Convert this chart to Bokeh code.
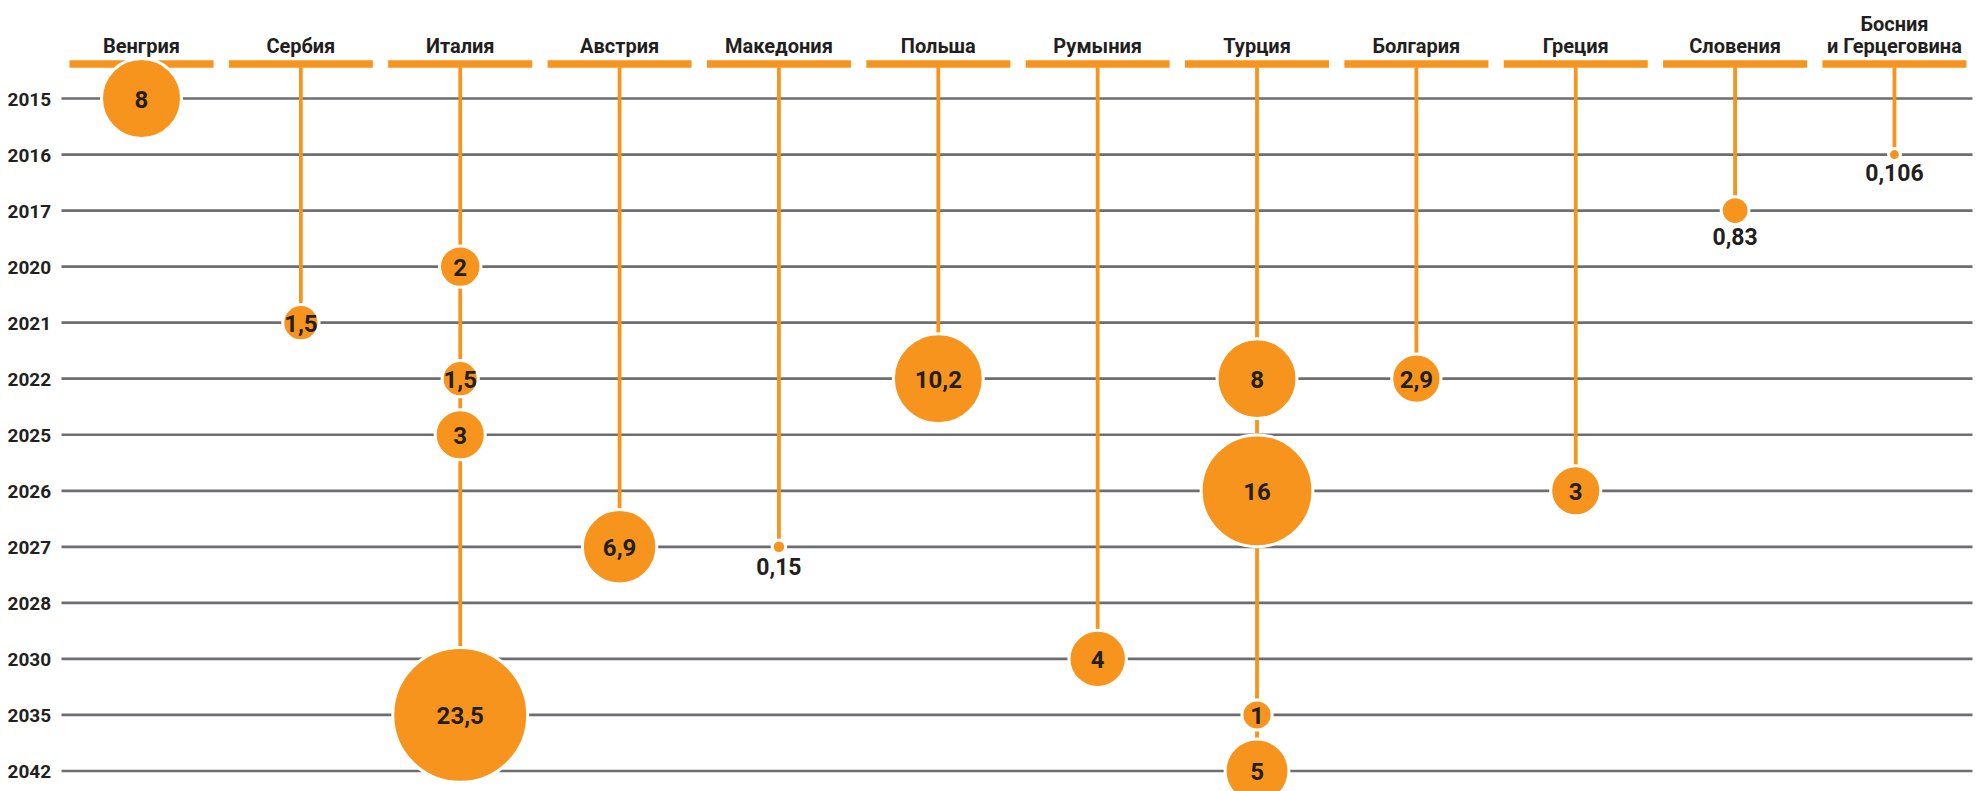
import math
from bokeh.plotting import figure
from bokeh.models import Range1d
from bokeh.core.properties import value
from bokeh.embed import file_html
from bokeh.resources import INLINE

# ---------------- data ----------------
countries = ["Венгрия", "Сербия", "Италия", "Австрия", "Македония", "Польша",
             "Румыния", "Турция", "Болгария", "Греция", "Словения",
             "Босния\nи Герцеговина"]
years = ["2015", "2016", "2017", "2020", "2021", "2022", "2025", "2026",
         "2027", "2028", "2030", "2035", "2042"]

pt_country = ["Венгрия", "Сербия", "Италия", "Италия", "Италия", "Италия",
              "Австрия", "Македония", "Польша", "Румыния",
              "Турция", "Турция", "Турция", "Турция",
              "Болгария", "Греция", "Словения", "Босния\nи Герцеговина"]
pt_year = ["2015", "2021", "2020", "2022", "2025", "2035",
           "2027", "2027", "2022", "2030",
           "2022", "2026", "2035", "2042",
           "2022", "2026", "2017", "2016"]
pt_value = [8, 1.5, 2, 1.5, 3, 23.5,
            6.9, 0.15, 10.2, 4,
            8, 16, 1, 5,
            2.9, 3, 0.83, 0.106]

# ---------------- style ----------------
ORANGE = "#F7941D"
GRAY = "#6D6E71"
INK = "#231F20"
FONT = value("Roboto")

W, H = 1987, 791
COL_PX = 159.36          # pixels per country column
ROW_PX = 56.04           # pixels per year row
X0 = -141 / COL_PX       # left edge of frame in column units
Y_TOP = -98 / ROW_PX     # top edge of frame in row units

p = figure(width=W, height=H,
           x_range=Range1d(X0, X0 + W / COL_PX),
           y_range=Range1d(Y_TOP + H / ROW_PX, Y_TOP),
           output_backend="svg", toolbar_location=None,
           x_axis_location=None, y_axis_location=None,
           min_border=0, outline_line_color=None,
           background_fill_color="white", border_fill_color="white")
p.grid.visible = False

col_idx = {c: i for i, c in enumerate(countries)}
row_idx = {y: i for i, y in enumerate(years)}
rows = list(range(len(years)))
cols = list(range(len(countries)))

# year grid lines
gx0 = X0 + 61 / COL_PX
gx1 = X0 + 1972 / COL_PX
p.segment(x0=[gx0] * len(rows), y0=rows, x1=[gx1] * len(rows), y1=rows,
          line_color=GRAY, line_width=2.7)

# year labels
p.text(x=[X0 + 7 / COL_PX] * len(rows), y=rows, text=years, text_align="left",
       text_baseline="middle", y_offset=1, text_font=FONT,
       text_font_style="bold", text_font_size="19px", text_color=INK)

# header bars
bar_y = Y_TOP + 63.5 / ROW_PX
p.rect(x=cols, y=[bar_y] * len(cols), width=144 / COL_PX, height=7.5,
       height_units="screen", fill_color=ORANGE, line_color=None)

# header labels
hx, hy, ht, hoff = [], [], [], []
head_mid = Y_TOP + 45.3 / ROW_PX
for i, c in enumerate(countries):
    lines = c.split("\n")
    for j, ln in enumerate(reversed(lines)):
        hx.append(i)
        hy.append(head_mid)
        ht.append(ln)
        hoff.append(-22 * j)
p.text(x=hx, y=hy, text=ht, y_offset=hoff, text_align="center",
       text_baseline="middle", text_font=FONT, text_font_style="bold",
       text_font_size="20px", text_color=INK)

# stems
stem_top = Y_TOP + 67 / ROW_PX
last_row = {}
for c, y in zip(pt_country, pt_year):
    last_row[c] = max(last_row.get(c, -1), row_idx[y])
sx = [col_idx[c] for c in last_row]
sy = [last_row[c] for c in last_row]
p.segment(x0=sx, y0=[stem_top] * len(sx), x1=sx, y1=sy,
          line_color=ORANGE, line_width=3.8)

# bubbles
px = [col_idx[c] for c in pt_country]
py = [row_idx[y] for y in pt_year]
diam = [27.2 * math.sqrt(v) for v in pt_value]
p.scatter(x=px, y=py, size=[d + 3 for d in diam], marker="circle",
          fill_color=ORANGE, line_color="white", line_width=3)

# value labels
def fmt(v):
    return f"{v:g}".replace(".", ",")

ix, iy, it = [], [], []
bx, by, bt, boff = [], [], [], []
for x, y, v, d in zip(px, py, pt_value, diam):
    if v >= 1:
        ix.append(x); iy.append(y); it.append(fmt(v))
    else:
        bx.append(x); by.append(y); bt.append(fmt(v)); boff.append(d / 2 + 14)
p.text(x=ix, y=iy, text=it, y_offset=0.5, text_align="center",
       text_baseline="middle", text_font=FONT, text_font_style="bold",
       text_font_size="24px", text_color=INK)
p.text(x=bx, y=by, text=bt, y_offset=boff, text_align="center",
       text_baseline="middle", text_font=FONT, text_font_style="bold",
       text_font_size="23px", text_color=INK)

open("out.html", "w").write(file_html(p, INLINE))
